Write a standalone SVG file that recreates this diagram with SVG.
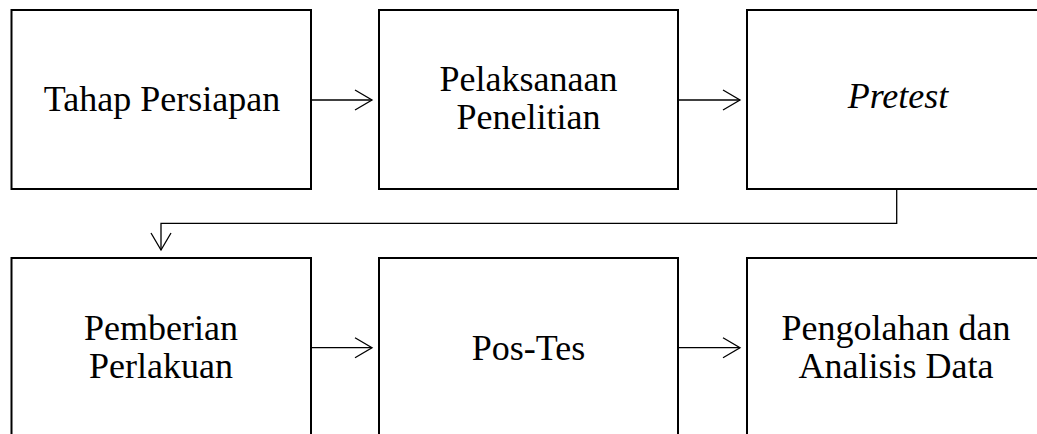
<svg xmlns="http://www.w3.org/2000/svg" width="1037" height="434" viewBox="0 0 1037 434">
<style>
.box{fill:#fff;stroke:#000;stroke-width:2}
.t{font-family:"Liberation Serif","Times New Roman",serif;font-size:36px;fill:#000;text-anchor:middle}
.c{fill:none;stroke:#000;stroke-width:1.3}
</style>
<defs>
<marker id="arr" markerWidth="20" markerHeight="24" refX="18" refY="12" orient="auto" markerUnits="userSpaceOnUse">
<path d="M1,2 L18,12 L1,22" fill="none" stroke="#000" stroke-width="1.3"/>
</marker>
</defs>
<g id="n1"><rect class="box" x="11.5" y="10" width="299.5" height="179"/><text class="t" x="162" y="111">Tahap Persiapan</text></g>
<g id="n2"><rect class="box" x="379" y="10" width="299" height="179"/><text class="t" x="528.5" y="91">Pelaksanaan</text><text class="t" x="528.5" y="129">Penelitian</text></g>
<g id="n3"><rect class="box" x="747" y="10" width="300" height="179"/><text class="t" x="898" y="108" font-style="italic">Pretest</text></g>
<g id="n4"><rect class="box" x="11.5" y="258" width="299.5" height="180"/><text class="t" x="161" y="340">Pemberian</text><text class="t" x="161" y="378">Perlakuan</text></g>
<g id="n5"><rect class="box" x="379" y="258" width="299" height="180"/><text class="t" x="528.5" y="360">Pos-Tes</text></g>
<g id="n6"><rect class="box" x="747" y="258" width="300" height="180"/><text class="t" x="896" y="340">Pengolahan dan</text><text class="t" x="896" y="378">Analisis Data</text></g>
<g id="connectors">
<line class="c" x1="311" y1="100" x2="372" y2="100" marker-end="url(#arr)"/>
<line class="c" x1="678" y1="100" x2="740" y2="100" marker-end="url(#arr)"/>
<polyline class="c" points="896.7,189 896.7,223.3 161,223.3 161,250" marker-end="url(#arr)"/>
<line class="c" x1="311" y1="347.7" x2="372" y2="347.7" marker-end="url(#arr)"/>
<line class="c" x1="678" y1="347.7" x2="740" y2="347.7" marker-end="url(#arr)"/>
</g>
</svg>
